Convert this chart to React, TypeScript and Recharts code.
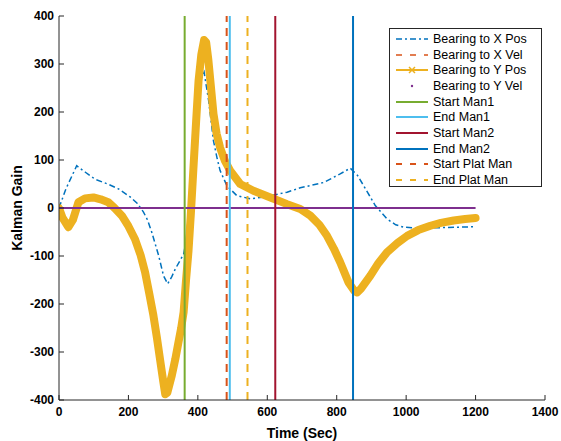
import React from 'react';
import { LineChart, Line, XAxis, YAxis, ReferenceLine } from 'recharts';

const timeTicks = [0, 200, 400, 600, 800, 1000, 1200, 1400];
const gainTicks = [-400, -300, -200, -100, 0, 100, 200, 300, 400];

// Bearing to X Pos
const xPosTime = [0, 20, 51, 75, 104, 140, 171, 205, 225, 243, 255, 267, 287, 301, 313, 325, 335, 359, 366, 375, 383, 392, 400, 407, 418, 431, 445, 455, 464, 484, 512, 551, 599, 657, 695, 762, 810, 839, 860, 878, 895, 911, 945, 970, 993, 1032, 1099, 1200];
const xPosGain = [0, 40, 88, 75, 60, 50, 40, 23, 10, -8, -25, -50, -99, -141, -158, -143, -127, -96, -70, 0, 92, 196, 240, 265, 283, 224, 140, 105, 78, 46, 26, 19, 24, 33, 42, 53, 71, 83, 68, 46, 25, 5, -23, -35, -40, -42, -41, -39];

// Bearing to Y Pos
const yPosTime = [0, 10, 27, 40, 56, 75, 99, 120, 142, 160, 181, 200, 219, 235, 248, 260, 272, 282, 291, 300, 306, 312, 325, 335, 344, 352, 359, 366, 373, 380, 387, 395, 402, 410, 418, 424, 430, 436, 445, 454, 464, 478, 493, 522, 560, 609, 657, 695, 724, 750, 772, 792, 810, 834, 850, 859, 870, 897, 920, 945, 975, 1003, 1035, 1070, 1100, 1137, 1170, 1200];
const yPosGain = [0, -20, -40, -25, 12, 20, 22, 18, 12, 0, -16, -38, -65, -98, -134, -178, -224, -270, -315, -360, -388, -385, -349, -315, -280, -250, -217, -150, -90, -10, 80, 180, 265, 320, 350, 345, 310, 265, 196, 155, 126, 98, 78, 50, 36, 22, 8, -2, -16, -35, -58, -85, -113, -155, -172, -176, -168, -141, -115, -92, -73, -58, -46, -37, -31, -26, -23, -21];

// velocity gains stay on zero
const velTime = [0, 300, 600, 900, 1200];
const xVelGain = [0, 0, 0, 0, 0];
const yVelGain = [0, 0, 0, 0, 0];

// manoeuvre markers
const markNames = ['Start Man1', 'End Man1', 'Start Man2', 'End Man2', 'Start Plat Man', 'End Plat Man'];
const markTimes = [362, 492, 623, 847, 483, 543];
const markColors = ['#77AC30', '#4DBEEE', '#A2142F', '#0072BD', '#D95319', '#EDB120'];
const markDashed = [false, false, false, false, true, true];

const seriesNames = ['Bearing to X Pos', 'Bearing to X Vel', 'Bearing to Y Pos', 'Bearing to Y Vel'];

const W = 561;
const H = 441;
const FONT = '"Liberation Sans", Arial, Helvetica, sans-serif';
const AXIS = '#262626';

const zip = (t: number[], g: number[]) => t.map((x, i) => ({ t: x, g: g[i] }));

const noTick = () => <g />;

const LegendSample = ({ i }: { i: number }) => {
  let el: React.ReactNode = null;
  if (i === 0) el = <line x1={2} x2={34} y1={8} y2={8} stroke="#0072BD" strokeWidth={1.5} strokeDasharray="6 3 2 3" />;
  else if (i === 1) el = <line x1={2} x2={34} y1={8} y2={8} stroke="#D95319" strokeWidth={1.5} strokeDasharray="6 8" />;
  else if (i === 2)
    el = (
      <g>
        <line x1={2} x2={34} y1={8} y2={8} stroke="#EDB120" strokeWidth={2} />
        <path d="M15 5 L21 11 M21 5 L15 11" stroke="#EDB120" strokeWidth={1.5} />
      </g>
    );
  else if (i === 3) el = <circle cx={18} cy={8} r={1.2} fill="#7E2F8E" />;
  else {
    const k = i - 4;
    el = (
      <line
        x1={2}
        x2={34}
        y1={8}
        y2={8}
        stroke={markColors[k]}
        strokeWidth={2}
        strokeDasharray={markDashed[k] ? '6 8' : undefined}
      />
    );
  }
  return (
    <svg width={36} height={16} style={{ display: 'block' }}>
      {el}
    </svg>
  );
};

export default function App() {
  const legendNames = [...seriesNames, ...markNames];
  return (
    <div style={{ position: 'absolute', left: 0, top: 0, width: W, height: H, background: '#fff', fontFamily: FONT }}>
      <LineChart width={W} height={H} margin={{ top: 16, right: 16, bottom: 11, left: 19 }}>
        <XAxis
          dataKey="t"
          type="number"
          domain={[0, 1400]}
          ticks={timeTicks}
          interval={0}
          allowDataOverflow
          height={30}
          tickSize={-5}
          tickMargin={12}
          stroke={AXIS}
          tick={{ fill: '#000', fontSize: 12, fontWeight: 'bold', fontFamily: FONT }}
        />
        <XAxis
          xAxisId="top"
          orientation="top"
          type="number"
          domain={[0, 1400]}
          ticks={timeTicks}
          interval={0}
          allowDataOverflow
          height={0}
          tickSize={-5}
          stroke={AXIS}
          tick={noTick}
        />
        <YAxis
          dataKey="g"
          type="number"
          domain={[-400, 400]}
          ticks={gainTicks}
          interval={0}
          allowDataOverflow
          width={40}
          tickSize={-5}
          tickMargin={10}
          stroke={AXIS}
          tick={{ fill: '#000', fontSize: 12, fontWeight: 'bold', fontFamily: FONT }}
        />
        <YAxis
          yAxisId="right"
          orientation="right"
          type="number"
          domain={[-400, 400]}
          ticks={gainTicks}
          interval={0}
          allowDataOverflow
          width={0}
          tickSize={-5}
          stroke={AXIS}
          tick={noTick}
        />
        <Line
          data={zip(xPosTime, xPosGain)}
          dataKey="g"
          type="linear"
          stroke="#0072BD"
          strokeWidth={1.5}
          strokeDasharray="6 3 2 3"
          dot={false}
          isAnimationActive={false}
        />
        <Line
          data={zip(velTime, xVelGain)}
          dataKey="g"
          type="linear"
          stroke="#D95319"
          strokeWidth={1.5}
          strokeDasharray="6 8"
          dot={false}
          isAnimationActive={false}
        />
        <Line
          data={zip(yPosTime, yPosGain)}
          dataKey="g"
          type="linear"
          stroke="#EDB120"
          strokeWidth={8}
          strokeLinejoin="round"
          strokeLinecap="round"
          dot={false}
          isAnimationActive={false}
        />
        <Line
          data={zip(velTime, yVelGain)}
          dataKey="g"
          type="linear"
          stroke="#7E2F8E"
          strokeWidth={2}
          dot={false}
          isAnimationActive={false}
        />
        {markTimes.map((t, i) => (
          <ReferenceLine
            key={markNames[i]}
            x={t}
            stroke={markColors[i]}
            strokeWidth={2}
            strokeDasharray={markDashed[i] ? '8 6' : undefined}
          />
        ))}
      </LineChart>

      <div
        style={{
          position: 'absolute',
          left: 0,
          top: 425,
          width: 604,
          textAlign: 'center',
          fontSize: 14,
          fontWeight: 'bold',
          color: '#000',
        }}
      >
        Time (Sec)
      </div>
      <div
        style={{
          position: 'absolute',
          left: 17,
          top: 208,
          transform: 'translate(-50%, -50%) rotate(-90deg)',
          whiteSpace: 'nowrap',
          fontSize: 14,
          fontWeight: 'bold',
          color: '#000',
        }}
      >
        Kalman Gain
      </div>

      <div
        style={{
          position: 'absolute',
          left: 389,
          top: 28,
          width: 153,
          height: 159,
          border: `1px solid ${AXIS}`,
          background: '#fff',
          boxSizing: 'border-box',
          paddingTop: 2,
        }}
      >
        {legendNames.map((name, i) => (
          <div key={name} style={{ display: 'flex', alignItems: 'center', height: 15.7, marginLeft: 4 }}>
            <LegendSample i={i} />
            <span style={{ fontSize: 12.5, color: '#000', marginLeft: 3, whiteSpace: 'nowrap' }}>{name}</span>
          </div>
        ))}
      </div>
    </div>
  );
}
